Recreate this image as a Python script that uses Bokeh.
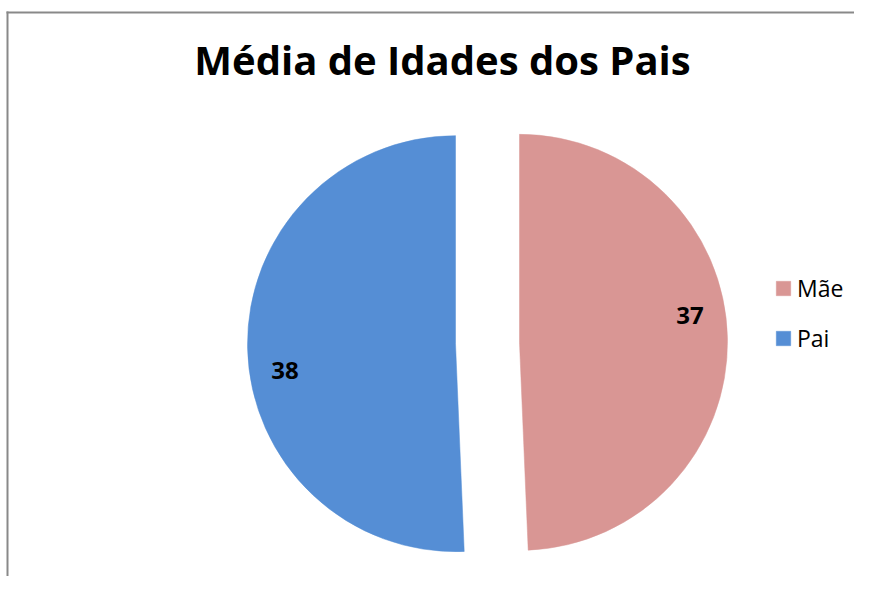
import math
from bokeh.plotting import figure
from bokeh.models import Range1d, ColumnDataSource, Label
from bokeh.embed import file_html
from bokeh.resources import INLINE

# ---- data ----
title_text = "Média de Idades dos Pais"
categories = ["Mãe", "Pai"]
values = [37, 38]
colors = ["#D99694", "#558ED5"]

# ---- layout (screen-like units: 1 data unit = 1 px) ----
W, H = 854, 576
CX, CY = 487, 233.5      # pie centre
R = 208                  # pie radius
EXPLODE = 32             # explosion distance
LABEL_R = 0.83           # label distance as fraction of radius
LABEL_SHIFT = math.radians(7.7)

p = figure(width=W, height=H, x_range=Range1d(0, W), y_range=Range1d(0, H),
           output_backend="svg", toolbar_location=None,
           min_border=0, min_border_left=0, min_border_right=0,
           min_border_top=0, min_border_bottom=0)
p.axis.visible = False
p.grid.visible = False
p.outline_line_color = None
p.background_fill_color = "white"
p.border_fill_color = "white"

# chart-area border (left and top visible)
p.line(x=[7, 7], y=[0, 565], line_color="#898989", line_width=2)
p.line(x=[6, W], y=[564, 564], line_color="#898989", line_width=2)

total = sum(values)
xs, ys, starts, ends, mids = [], [], [], [], []
cum = 0.0
for v in values:
    a_end = math.pi / 2 - 2 * math.pi * cum / total
    a_start = math.pi / 2 - 2 * math.pi * (cum + v) / total
    mid = (a_start + a_end) / 2
    xs.append(CX + EXPLODE * math.cos(mid))
    ys.append(CY + EXPLODE * math.sin(mid))
    starts.append(a_start)
    ends.append(a_end)
    mids.append(mid)
    cum += v

src = ColumnDataSource(dict(x=xs, y=ys, start=starts, end=ends,
                            color=colors, category=categories))
p.wedge(x="x", y="y", radius=R, start_angle="start", end_angle="end",
        fill_color="color", line_color="color", line_width=0.5,
        source=src, legend_field="category")

# data labels
for x0, y0, mid, v in zip(xs, ys, mids, values):
    a = mid + LABEL_SHIFT
    p.add_layout(Label(x=x0 + LABEL_R * R * math.cos(a),
                       y=y0 + LABEL_R * R * math.sin(a),
                       text=str(v), text_font="Open Sans", text_font_style="bold",
                       text_font_size="24px", text_color="black",
                       text_align="center", text_baseline="middle"))

# title
p.add_layout(Label(x=442, y=517, text=title_text, text_font="Open Sans",
                   text_font_style="bold", text_font_size="40px",
                   text_color="black", text_align="center",
                   text_baseline="alphabetic"))

# legend
lg = p.legend[0]
lg.location = (774, 222)
lg.orientation = "vertical"
lg.glyph_width = 18
lg.glyph_height = 18
lg.label_text_font = "Open Sans"
lg.label_text_font_size = "23px"
lg.label_text_color = "black"
lg.label_standoff = 5
lg.label_height = 24
lg.spacing = 18
lg.padding = 0
lg.margin = 0
lg.border_line_color = None
lg.background_fill_alpha = 0

open("out.html", "w").write(file_html(p, INLINE))
